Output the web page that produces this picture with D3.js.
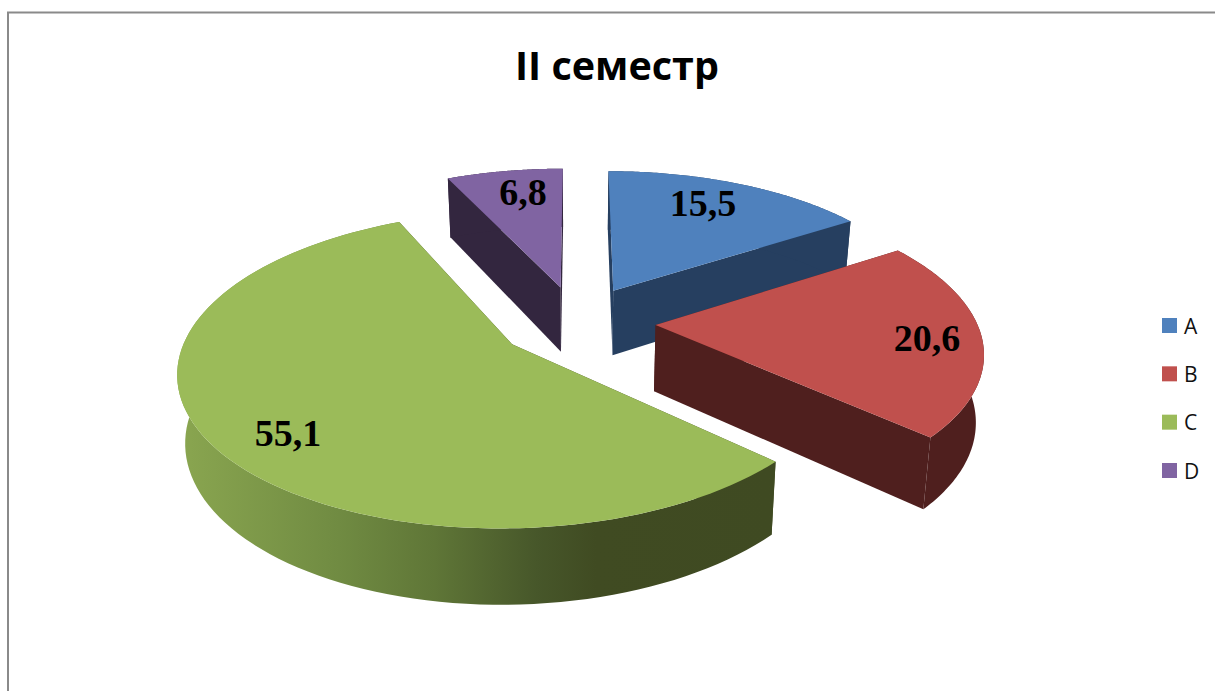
<!DOCTYPE html>
<html><head><meta charset="utf-8">
<script src="https://cdn.jsdelivr.net/npm/d3@7"></script>
<style>html,body{margin:0;padding:0;background:#fff}svg{display:block}</style>
</head><body><svg id="c" width="1215" height="691"></svg>
<script>
const categories = ["A","B","C","D"];
const values = [15.5,20.6,55.1,6.8];
const valueLabels = ["15,5","20,6","55,1","6,8"];
const topColors = ["#4f81bd","#c0504d","#9bbb59","#8064a2"];
const wallColors = ["#263f60","#4f1f1e","#404b22","#33263f"];
const title = "II семестр";

const W=1215,H=691;
const svg=d3.select("#c");
// layout of the projected pie
const cx=577, cy=322, Rx=321, Rz=315, explode=78.6, tilt=0.468, persp=0.0005;
const bottomDy=66, bottomSx=0.98, bottomSy=1.05;
const labelAt=[[703,203],[927,338],[288,433],[523,192]];
const labelOrder=[3,0,2,1];

function project(X,Z,bottom){
  const w=1-Z*persp, x=X/w, y=tilt*Z/w;
  return bottom ? [cx+bottomSx*x, cy+bottomDy+bottomSy*y] : [cx+x, cy+y];
}
const arcs=d3.pie().sort(null).value(d=>d)(values);
const line=d3.line();
function apexWorld(a){
  const m=(a.startAngle+a.endAngle)/2;
  return [explode*Math.sin(m), -explode*Math.cos(m)];
}
function point(a,ang,r,bottom){
  const [ax,az]=apexWorld(a);
  return project(ax+r*Rx*Math.sin(ang), az-r*Rz*Math.cos(ang), bottom);
}
function rimPts(a,bottom){
  return d3.range(0,101).map(i=>point(a,a.startAngle+(a.endAngle-a.startAngle)*i/100,1,bottom));
}
// background frame
svg.append("rect").attr("width",W).attr("height",H).attr("fill","#fff");
svg.append("path").attr("d",`M8,${H}V12.5H${W}`).attr("fill","none").attr("stroke","#8a8a8a").attr("stroke-width",2);

const defs=svg.append("defs");
const grad=defs.append("linearGradient").attr("id","rimC").attr("gradientUnits","userSpaceOnUse")
  .attr("x1",178).attr("x2",775).attr("y1",0).attr("y2",0);
[[0,"#8aa650"],[0.27,"#708b42"],[0.43,"#5f7637"],[0.6,"#47572a"],[0.7,"#404b22"],[1,"#3f4a22"]]
  .forEach(s=>grad.append("stop").attr("offset",s[0]).attr("stop-color",s[1]));

labelOrder.forEach(i=>{
  const a=arcs[i], g=svg.append("g"), fill=wallColors[i];
  const wall=ang=>[point(a,ang,0,false),point(a,ang,1,false),point(a,ang,1,true),point(a,ang,0,true)];
  [a.startAngle,a.endAngle].forEach(ang=>
    g.append("path").attr("d",line(wall(ang))+"Z").attr("fill",fill));
  const rim=rimPts(a,false).concat(rimPts(a,true).reverse());
  g.append("path").attr("d",line(rim)+"Z").attr("fill",i===2?"url(#rimC)":fill);
  const top=[point(a,a.startAngle,0,false)].concat(rimPts(a,false));
  g.append("path").attr("d",line(top)+"Z").attr("fill",topColors[i]);
});

valueLabels.forEach((t,i)=>{
  svg.append("text").attr("x",labelAt[i][0]).attr("y",labelAt[i][1]).attr("dy","0.34em")
    .attr("text-anchor","middle").attr("font-family","'Liberation Serif',serif")
    .attr("font-weight","bold").attr("font-size",38).attr("fill","#000").text(t);
});

svg.append("text").attr("x",617).attr("y",80).attr("text-anchor","middle")
  .attr("font-family","'Open Sans',sans-serif").attr("font-weight","bold").attr("font-size",39.5)
  .attr("fill","#000").text(title);

const legendY=d3.scalePoint().domain(categories).range([325.5,470.5]);
categories.forEach((c,i)=>{
  svg.append("rect").attr("x",1162).attr("y",legendY(c)-7.5).attr("width",15).attr("height",15).attr("fill",topColors[i]);
  svg.append("text").attr("x",1184).attr("y",legendY(c)+8).attr("font-family","'Open Sans',sans-serif")
    .attr("font-size",21).attr("fill","#111").text(c);
});
</script></body></html>
